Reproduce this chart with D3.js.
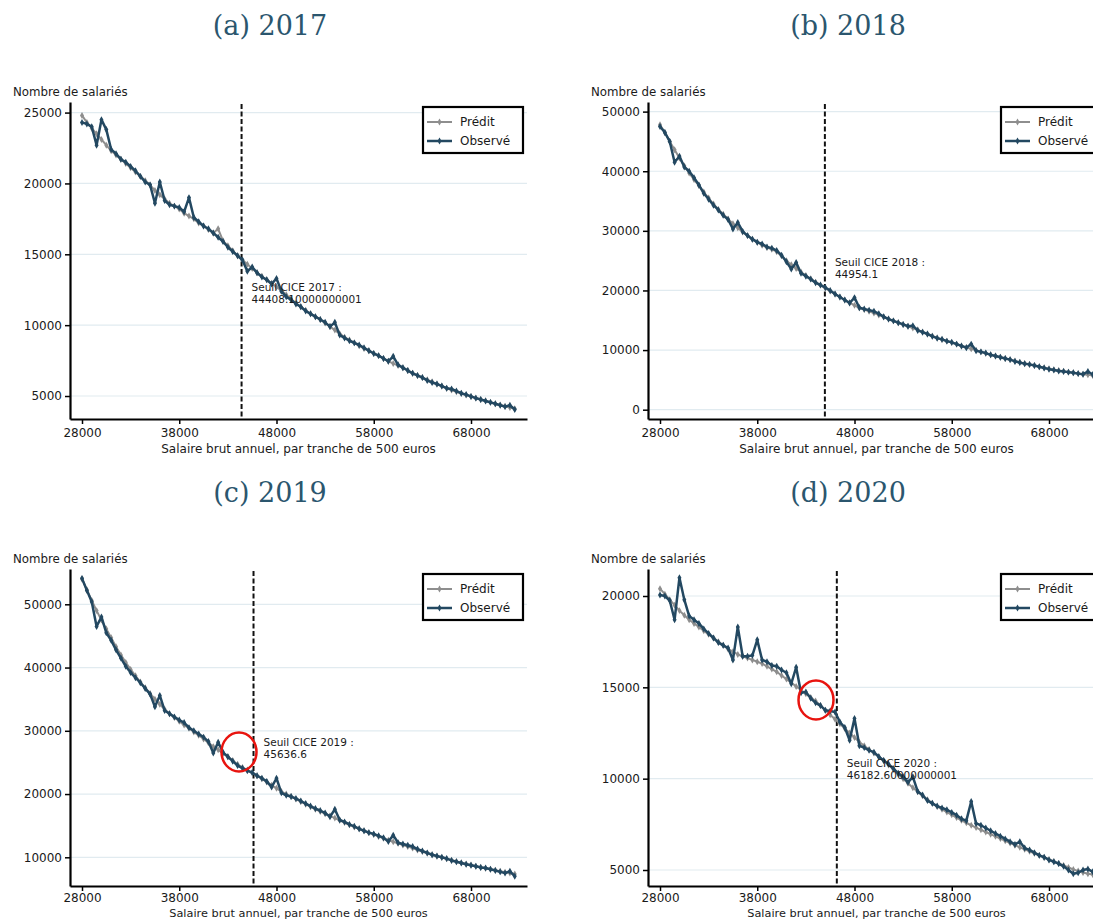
<!DOCTYPE html>
<html>
<head>
<meta charset="utf-8">
<script src="https://cdn.jsdelivr.net/npm/d3@7"></script>
<style>
body { margin: 0; background: #fff; }
svg { display: block; }
</style>
</head>
<body>
<div id="vis"></div>
<script>
// tranches de salaire brut annuel (pas de 500 euros)
var tranches = [
    28000, 28500, 29000, 29500, 30000, 30500, 31000, 31500, 32000, 32500,
    33000, 33500, 34000, 34500, 35000, 35500, 36000, 36500, 37000, 37500,
    38000, 38500, 39000, 39500, 40000, 40500, 41000, 41500, 42000, 42500,
    43000, 43500, 44000, 44500, 45000, 45500, 46000, 46500, 47000, 47500,
    48000, 48500, 49000, 49500, 50000, 50500, 51000, 51500, 52000, 52500,
    53000, 53500, 54000, 54500, 55000, 55500, 56000, 56500, 57000, 57500,
    58000, 58500, 59000, 59500, 60000, 60500, 61000, 61500, 62000, 62500,
    63000, 63500, 64000, 64500, 65000, 65500, 66000, 66500, 67000, 67500,
    68000, 68500, 69000, 69500, 70000, 70500, 71000, 71500, 72000, 72500
];

var observe2017 = [
    24300, 24200, 24000, 22700, 24500, 23800, 22400, 22100, 21700, 21500,
    21200, 20900, 20500, 20100, 19900, 18600, 20100, 18800, 18500, 18400,
    18300, 18000, 19000, 17600, 17300, 17000, 16800, 16500, 16200, 15900,
    15500, 15200, 14900, 14600, 13800, 14100, 13700, 13400, 13200, 12900,
    13300, 12400, 12000, 11800, 11500, 11300, 11000, 10800, 10600, 10400,
    10200, 9900, 10200, 9300, 9100, 8900, 8750, 8600, 8400, 8200,
    8000, 7850, 7650, 7450, 7800, 7200, 7000, 6800, 6600, 6450,
    6300, 6100, 5950, 5850, 5700, 5550, 5500, 5350, 5200, 5100,
    4970, 4850, 4750, 4650, 4550, 4450, 4350, 4250, 4350, 4050
];
var predit2017 = [
    24800, 24300, 23900, 23500, 23100, 22700, 22300, 22000, 21700, 21400,
    21100, 20800, 20500, 20200, 19900, 19500, 19200, 18900, 18600, 18400,
    18200, 17900, 17700, 17500, 17200, 17000, 16750, 16500, 16800, 15950,
    15600, 15250, 14900, 14600, 14300, 14000, 13700, 13450, 13200, 12950,
    12700, 12450, 12150, 11850, 11550, 11300, 11050, 10800, 10600, 10400,
    10150, 9900, 9650, 9400, 9150, 8950, 8750, 8550, 8350, 8200,
    8000, 7850, 7650, 7450, 7300, 7150, 7000, 6800, 6600, 6450,
    6300, 6150, 6000, 5850, 5700, 5550, 5420, 5300, 5180, 5070,
    4970, 4860, 4760, 4660, 4560, 4460, 4370, 4280, 4190, 4100
];

var observe2018 = [
    47500, 46500, 45000, 41500, 42500, 40700, 40000, 38900, 37700, 36300,
    35300, 34300, 33500, 32600, 31900, 30300, 31400, 29900, 29200, 28600,
    28100, 27800, 27300, 27100, 26700, 25900, 24800, 23600, 24700, 22900,
    22400, 21900, 21300, 20900, 20500, 20000, 19400, 18900, 18400, 17900,
    18800, 17100, 16900, 16700, 16500, 16100, 15600, 15200, 14900, 14600,
    14300, 14000, 14100, 13300, 13000, 12700, 12300, 12000, 11800, 11500,
    11300, 11000, 10700, 10400, 11000, 9900, 9700, 9500, 9200, 9000,
    8800, 8600, 8400, 8100, 7900, 7700, 7600, 7400, 7200, 7000,
    6800, 6650, 6500, 6400, 6300, 6200, 6050, 5950, 6400, 5900
];
var predit2018 = [
    47800, 46500, 45000, 43600, 42200, 40900, 39700, 38600, 37600, 36500,
    35500, 34500, 33600, 32800, 32000, 31200, 30500, 29800, 29200, 28600,
    28100, 27600, 27200, 26900, 26500, 25800, 25000, 24300, 23700, 23100,
    22500, 21950, 21400, 20900, 20400, 19900, 19400, 18900, 18400, 17950,
    17500, 17100, 16800, 16500, 16200, 15900, 15550, 15200, 14900, 14600,
    14300, 14000, 13700, 13400, 13050, 12700, 12350, 12050, 11750, 11500,
    11250, 11000, 10700, 10450, 10200, 9950, 9700, 9450, 9200, 9000,
    8800, 8600, 8400, 8150, 7950, 7750, 7580, 7400, 7220, 7050,
    6880, 6720, 6570, 6430, 6300, 6180, 6060, 5950, 5850, 5750
];

var observe2019 = [
    54100, 52200, 50400, 46500, 48000, 45500, 44300, 42800, 41500, 40200,
    39200, 38400, 37600, 36700, 35800, 33800, 35600, 33200, 32700, 32200,
    31700, 31300, 30500, 30000, 29500, 29000, 28300, 26500, 28200, 26600,
    25900, 25200, 24500, 24100, 23700, 23400, 22900, 22500, 22000, 21100,
    22500, 20200, 19800, 19600, 19300, 18900, 18500, 18100, 17700, 17400,
    17000, 16400, 17600, 15900, 15600, 15200, 14900, 14500, 14200, 13900,
    13700, 13400, 13100, 12500, 13500, 12300, 12100, 11900, 11700, 11300,
    11000, 10700, 10400, 10200, 10000, 9800, 9500, 9300, 9100, 8900,
    8750, 8600, 8400, 8300, 8100, 7900, 7700, 7500, 7800, 7000
];
var predit2019 = [
    54000, 52300, 50600, 49000, 47500, 46100, 44700, 43300, 42000, 40800,
    39700, 38700, 37700, 36800, 35900, 35000, 34200, 33400, 32700, 32100,
    31500, 30900, 30400, 29800, 29300, 28700, 28100, 27500, 27000, 26400,
    25900, 25300, 24700, 24200, 23800, 23400, 22900, 22400, 21900, 21400,
    20900, 20400, 20000, 19600, 19200, 18800, 18400, 18000, 17600, 17250,
    16900, 16550, 16200, 15850, 15500, 15150, 14800, 14500, 14200, 13900,
    13600, 13300, 13000, 12700, 12450, 12200, 11950, 11700, 11450, 11150,
    10900, 10650, 10400, 10150, 9950, 9750, 9550, 9350, 9150, 8950,
    8780, 8600, 8430, 8270, 8100, 7950, 7800, 7650, 7500, 7350
];

var observe2020 = [
    20050, 20000, 19750, 18700, 21000, 19800, 18900, 18700, 18500, 18200,
    17950, 17700, 17450, 17300, 17150, 16500, 18300, 16700, 16700, 16750,
    17600, 16500, 16400, 16200, 16150, 15950, 15800, 15200, 16100, 14700,
    14750, 14400, 14150, 14000, 13750, 13700, 13650, 13100, 12800, 12100,
    13300, 11800, 11700, 11550, 11450, 11200, 11000, 10800, 10550, 10300,
    10100, 9800, 10100, 9300, 9100, 8800, 8650, 8500, 8400, 8300,
    8150, 8000, 7800, 7700, 8750, 7550, 7450, 7300, 7150, 7000,
    6850, 6700, 6550, 6400, 6550, 6200, 6100, 5950, 5800, 5700,
    5550, 5450, 5350, 5200, 5000, 4800, 4850, 5000, 5050, 4900
];
var predit2020 = [
    20400, 20100, 19800, 19500, 19200, 18950, 18700, 18500, 18300, 18100,
    17900, 17700, 17500, 17300, 17100, 16950, 16800, 16700, 16600, 16500,
    16400, 16300, 16150, 16000, 15850, 15650, 15450, 15250, 15050, 14850,
    14650, 14450, 14250, 14000, 13750, 13500, 13250, 13000, 12750, 12500,
    12250, 12000, 11800, 11600, 11400, 11200, 11000, 10750, 10500, 10250,
    10000, 9750, 9500, 9280, 9060, 8850, 8650, 8480, 8320, 8170,
    8020, 7870, 7720, 7580, 7450, 7320, 7200, 7080, 6960, 6840,
    6720, 6600, 6480, 6360, 6240, 6130, 6020, 5910, 5800, 5690,
    5580, 5470, 5360, 5250, 5140, 5030, 4940, 4860, 4800, 4750
];

var annees = ['2017', '2018', '2019', '2020'];
var lettres = ['a', 'b', 'c', 'd'];
var seuils = [44408.1, 44954.1, 45636.6, 46182.6];
var seuilTextes = ['44408.10000000001', '44954.1', '45636.6', '46182.60000000001'];
var seuilLabelY = [12680, 24736, 28182, 10876];
var yDomaines = [[3378, 25747], [-1562, 51612], [5462, 55581], [4124, 21478]];
var yTicks = [
    [5000, 10000, 15000, 20000, 25000],
    [0, 10000, 20000, 30000, 40000, 50000],
    [10000, 20000, 30000, 40000, 50000],
    [5000, 10000, 15000, 20000]
];
var xTicks = [28000, 38000, 48000, 58000, 68000];
var xDomaine = [26766, 73758];
// zones entourées en rouge (salaire, nombre)
var cercles = [null, null, [44144, 26648], [44041, 14308]];

var observes = [observe2017, observe2018, observe2019, observe2020];
var predits = [predit2017, predit2018, predit2019, predit2020];

var W = 1093, H = 919;
var offsets = [[0, 0], [578, 0], [0, 467], [578, 467]];
var margin = { left: 70, top: 102 };
var plotW = 457, plotH = 317;

var col_obs = '#234861';
var col_pred = '#8e8e8e';
var sans = 'DejaVu Sans, Liberation Sans, sans-serif';

var svg = d3.select('#vis')
    .append('svg')
    .attr('width', W)
    .attr('height', H)
    .style('background', '#fff');

var x_scale = d3.scaleLinear()
    .domain(xDomaine)
    .range([0, plotW]);

var diamond = d3.symbol().type(d3.symbolDiamond).size(14);

lettres.forEach(function(lettre, i) {
    var ox = offsets[i][0], oy = offsets[i][1];
    var bas = oy > 0;

    svg.append('text')
        .attr('x', ox + 270)
        .attr('y', oy + 35)
        .attr('text-anchor', 'middle')
        .style('font-family', 'DejaVu Serif, serif')
        .style('font-size', '27px')
        .style('fill', '#2b566e')
        .text('(' + lettre + ') ' + annees[i]);

    svg.append('text')
        .attr('x', ox + 13)
        .attr('y', oy + 96)
        .style('font-family', sans)
        .style('font-size', '11.8px')
        .style('fill', '#1a1a1a')
        .text('Nombre de salariés');

    var g = svg.append('g')
        .attr('transform', 'translate(' + (ox + margin.left) + ',' + (oy + margin.top) + ')');

    var y_scale = d3.scaleLinear()
        .domain(yDomaines[i])
        .range([plotH, 0]);

    // grid
    g.selectAll('.grid')
        .data(yTicks[i])
        .enter()
        .append('line')
        .attr('x1', 0)
        .attr('x2', plotW)
        .attr('y1', function(d) { return y_scale(d); })
        .attr('y2', function(d) { return y_scale(d); })
        .attr('stroke', '#e1ebf0')
        .attr('stroke-width', 1.2);

    var y_axis = d3.axisLeft(y_scale)
        .tickValues(yTicks[i])
        .tickFormat(d3.format('d'))
        .tickSize(5)
        .tickSizeOuter(0)
        .tickPadding(3);

    var x_axis = d3.axisBottom(x_scale)
        .tickValues(xTicks)
        .tickFormat(d3.format('d'))
        .tickSize(5)
        .tickSizeOuter(0)
        .tickPadding(bas ? 2 : 4);

    var ya = g.append('g').attr('class', 'y axis').call(y_axis);
    var xa = g.append('g').attr('class', 'x axis')
        .attr('transform', 'translate(0,' + plotH + ')')
        .call(x_axis);

    [ya, xa].forEach(function(a) {
        a.select('.domain').attr('stroke', '#000').attr('stroke-width', 2.2);
        a.selectAll('.tick line').attr('stroke', '#000').attr('stroke-width', 1.5);
        a.selectAll('.tick text')
            .style('font-family', sans)
            .style('font-size', '12px')
            .style('fill', '#1a1a1a');
    });

    svg.append('text')
        .attr('x', ox + margin.left + plotW / 2)
        .attr('y', bas ? H - 2 : oy + margin.top + plotH + 34)
        .attr('text-anchor', 'middle')
        .style('font-family', sans)
        .style('font-size', bas ? '11.3px' : '12px')
        .style('fill', '#1a1a1a')
        .text('Salaire brut annuel, par tranche de 500 euros');

    // seuil CICE
    var xs = x_scale(seuils[i]);
    g.append('line')
        .attr('x1', xs).attr('x2', xs)
        .attr('y1', 2).attr('y2', plotH)
        .attr('stroke', '#111')
        .attr('stroke-width', 2)
        .attr('stroke-dasharray', '5,2.5');

    var line = d3.line()
        .x(function(d) { return x_scale(d[0]); })
        .y(function(d) { return y_scale(d[1]); });

    var series = [
        { vals: predits[i], color: col_pred, w: 2 },
        { vals: observes[i], color: col_obs, w: 2.5 }
    ];

    series.forEach(function(s) {
        var pts = tranches.map(function(t, k) { return [t, s.vals[k]]; });
        g.append('path')
            .datum(pts)
            .attr('d', line)
            .attr('fill', 'none')
            .attr('stroke', s.color)
            .attr('stroke-width', s.w)
            .attr('stroke-linejoin', 'round');
        g.selectAll(null)
            .data(pts)
            .enter()
            .append('path')
            .attr('d', diamond)
            .attr('transform', function(d) {
                return 'translate(' + x_scale(d[0]) + ',' + y_scale(d[1]) + ')';
            })
            .attr('fill', s.color);
    });

    var lab = g.append('text')
        .attr('x', xs + 10)
        .attr('y', y_scale(seuilLabelY[i]) + 4)
        .style('font-family', sans)
        .style('font-size', '10.5px')
        .style('fill', '#1a1a1a');
    lab.append('tspan').attr('x', xs + 10).text('Seuil CICE ' + annees[i] + ' :');
    lab.append('tspan').attr('x', xs + 10).attr('dy', 12).text(seuilTextes[i]);

    if (cercles[i]) {
        g.append('ellipse')
            .attr('cx', x_scale(cercles[i][0]))
            .attr('cy', y_scale(cercles[i][1]))
            .attr('rx', 17.5)
            .attr('ry', 19.5)
            .attr('fill', 'none')
            .attr('stroke', '#e8140f')
            .attr('stroke-width', 2.5);
    }

    // legende
    var leg = g.append('g').attr('transform', 'translate(353,5)');
    leg.append('rect')
        .attr('width', 100)
        .attr('height', 46)
        .attr('fill', '#fff')
        .attr('stroke', '#000')
        .attr('stroke-width', 2.2);
    [['Prédit', col_pred, 2], ['Observé', col_obs, 2.5]].forEach(function(e, k) {
        var ly = 15 + k * 19;
        leg.append('line')
            .attr('x1', 4).attr('x2', 29)
            .attr('y1', ly).attr('y2', ly)
            .attr('stroke', e[1]).attr('stroke-width', e[2]);
        leg.append('path')
            .attr('d', diamond)
            .attr('transform', 'translate(16.5,' + ly + ')')
            .attr('fill', e[1]);
        leg.append('text')
            .attr('x', 37)
            .attr('y', ly)
            .attr('dy', '0.35em')
            .style('font-family', sans)
            .style('font-size', '12px')
            .style('fill', '#1a1a1a')
            .text(e[0]);
    });
});
</script>
</body>
</html>
